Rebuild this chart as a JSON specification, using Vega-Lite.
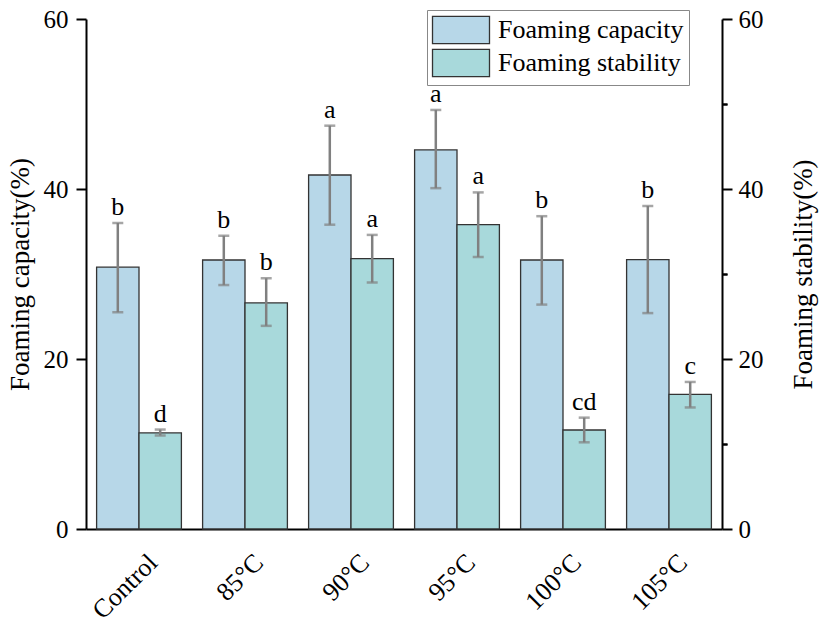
{
  "$schema": "https://vega.github.io/schema/vega-lite/v6.json",
  "width": 636,
  "height": 510,
  "autosize": {"type": "none"},
  "padding": {"left": 86, "top": 19, "right": 108, "bottom": 99},
  "background": "white",
  "config": {
    "view": {"stroke": null},
    "font": "Liberation Serif",
    "axis": {
      "titleFontWeight": "normal",
      "titleColor": "black",
      "labelColor": "black",
      "domainColor": "black",
      "domainWidth": 2,
      "tickColor": "black",
      "tickWidth": 2,
      "grid": false,
      "labelFont": "Liberation Serif",
      "titleFont": "Liberation Serif"
    }
  },
  "data": {
    "values": [
      {"group": "Control", "series": "Foaming capacity", "value": 30.8, "lo": 25.5, "hi": 36.0, "label": "b"},
      {"group": "Control", "series": "Foaming stability", "value": 11.3, "lo": 11.0, "hi": 11.7, "label": "d"},
      {"group": "85°C", "series": "Foaming capacity", "value": 31.65, "lo": 28.7, "hi": 34.5, "label": "b"},
      {"group": "85°C", "series": "Foaming stability", "value": 26.6, "lo": 23.9, "hi": 29.5, "label": "b"},
      {"group": "90°C", "series": "Foaming capacity", "value": 41.65, "lo": 35.8, "hi": 47.45, "label": "a"},
      {"group": "90°C", "series": "Foaming stability", "value": 31.8, "lo": 29.0, "hi": 34.6, "label": "a"},
      {"group": "95°C", "series": "Foaming capacity", "value": 44.6, "lo": 40.1, "hi": 49.3, "label": "a"},
      {"group": "95°C", "series": "Foaming stability", "value": 35.8, "lo": 32.0, "hi": 39.6, "label": "a"},
      {"group": "100°C", "series": "Foaming capacity", "value": 31.65, "lo": 26.4, "hi": 36.8, "label": "b"},
      {"group": "100°C", "series": "Foaming stability", "value": 11.65, "lo": 10.2, "hi": 13.1, "label": "cd"},
      {"group": "105°C", "series": "Foaming capacity", "value": 31.7, "lo": 25.4, "hi": 38.0, "label": "b"},
      {"group": "105°C", "series": "Foaming stability", "value": 15.85, "lo": 14.3, "hi": 17.3, "label": "c"}
    ]
  },
  "encoding": {
    "x": {
      "field": "group",
      "type": "nominal",
      "sort": ["Control", "85°C", "90°C", "95°C", "100°C", "105°C"],
      "scale": {"paddingInner": 0.2, "paddingOuter": 0.1},
      "axis": {
        "title": null,
        "labelAngle": -45,
        "ticks": false,
        "labelFontSize": 26,
        "labelAlign": "right",
        "labelBaseline": "top",
        "labelPadding": 20,
        "labelOffset": 5
      }
    },
    "xOffset": {
      "field": "series",
      "type": "nominal",
      "sort": ["Foaming capacity", "Foaming stability"],
      "scale": {"paddingInner": 0, "paddingOuter": 0}
    }
  },
  "layer": [
    {
      "layer": [
        {
          "mark": {"type": "bar", "stroke": "#333333", "strokeWidth": 1.3},
          "encoding": {
            "y": {
              "field": "value",
              "type": "quantitative",
              "scale": {"domain": [0, 60]},
              "axis": {
                "title": "Foaming capacity(%)",
                "values": [0, 20, 40, 60],
                "tickSize": 10,
                "labelFontSize": 25,
                "labelPadding": 8,
                "titleFontSize": 27,
                "titlePadding": 9
              }
            },
            "color": {
              "field": "series",
              "type": "nominal",
              "sort": ["Foaming capacity", "Foaming stability"],
              "scale": {"range": ["#b7d7e8", "#a8d9db"]},
              "legend": {
                "title": null,
                "orient": "none",
                "legendX": 341,
                "legendY": -9,
                "symbolType": "M-2,-0.95H2V0.95H-2Z",
                "symbolSize": 812,
                "symbolOffset": 14,
                "symbolStrokeColor": "#333333",
                "symbolStrokeWidth": 1.3,
                "symbolOpacity": 1,
                "labelFontSize": 26,
                "labelFont": "Liberation Serif",
                "labelColor": "black",
                "labelLimit": 400,
                "labelOffset": 22,
                "strokeColor": "#888888",
                "fillColor": "white",
                "padding": 5,
                "rowPadding": -1
              }
            }
          }
        },
        {
          "mark": {"type": "rule", "color": "#808080", "strokeWidth": 2.5},
          "encoding": {
            "y": {"field": "lo", "type": "quantitative"},
            "y2": {"field": "hi"}
          }
        },
        {
          "mark": {"type": "tick", "color": "#808080", "thickness": 2.5, "size": 11, "orient": "horizontal"},
          "encoding": {"y": {"field": "lo", "type": "quantitative"}}
        },
        {
          "mark": {"type": "tick", "color": "#808080", "thickness": 2.5, "size": 11, "orient": "horizontal"},
          "encoding": {"y": {"field": "hi", "type": "quantitative"}}
        },
        {
          "mark": {"type": "text", "fontSize": 26, "font": "Liberation Serif", "color": "black", "baseline": "alphabetic", "dy": -8},
          "encoding": {
            "y": {"field": "hi", "type": "quantitative"},
            "text": {"field": "label", "type": "nominal"}
          }
        }
      ]
    },
    {
      "mark": {"type": "point", "opacity": 0},
      "encoding": {
        "y": {
          "field": "value",
          "type": "quantitative",
          "scale": {"domain": [0, 60]},
          "axis": {"values": [10, 30, 50], "labels": false, "tickSize": 5, "domain": false, "title": null}
        }
      }
    },
    {
      "mark": {"type": "point", "opacity": 0},
      "encoding": {
        "y": {
          "field": "value",
          "type": "quantitative",
          "scale": {"domain": [0, 60]},
          "axis": {
            "orient": "right",
            "values": [0, 20, 40, 60],
            "tickSize": 10,
            "labelFontSize": 25,
            "labelPadding": 6,
            "title": "Foaming stability(%)",
            "titleFontSize": 27,
            "titlePadding": 27,
            "titleAngle": 270,
            "titleBaseline": "top"
          }
        }
      }
    },
    {
      "mark": {"type": "point", "opacity": 0},
      "encoding": {
        "y": {
          "field": "value",
          "type": "quantitative",
          "scale": {"domain": [0, 60]},
          "axis": {"orient": "right", "values": [10, 30, 50], "labels": false, "tickSize": 5, "domain": false, "title": null}
        }
      }
    }
  ],
  "resolve": {"scale": {"y": "independent"}}
}
